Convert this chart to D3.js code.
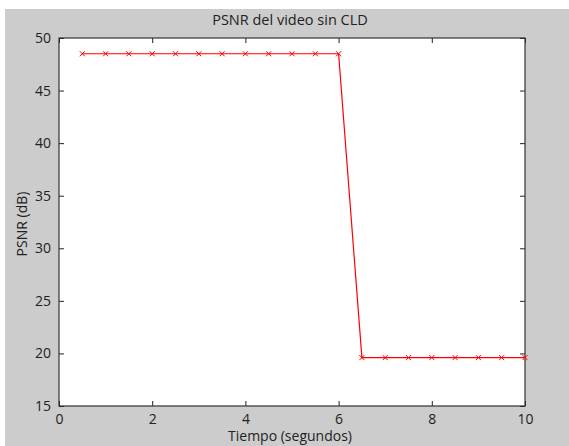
<!DOCTYPE html>
<html>
<head>
<meta charset="utf-8">
<script src="https://cdn.jsdelivr.net/npm/d3@7"></script>
<style>
  body { margin: 0; background: #fff; }
  svg text { font-family: "Open Sans", "DejaVu Sans", sans-serif; fill: #222; }
</style>
</head>
<body>
<svg id="chart" width="569" height="446"></svg>
<script>
// data
var tiempo = [0.5, 1, 1.5, 2, 2.5, 3, 3.5, 4, 4.5, 5, 5.5, 6,
              6.5, 7, 7.5, 8, 8.5, 9, 9.5, 10];
var psnr = [48.5, 48.5, 48.5, 48.5, 48.5, 48.5, 48.5, 48.5, 48.5, 48.5, 48.5, 48.5,
            19.6, 19.6, 19.6, 19.6, 19.6, 19.6, 19.6, 19.6];
var xTicks = [0, 2, 4, 6, 8, 10];
var yTicks = [15, 20, 25, 30, 35, 40, 45, 50];

var PLOT_X = 59, PLOT_Y = 38, PLOT_W = 466, PLOT_H = 368;
var TICK = 5;

var svg = d3.select("#chart");

// grey figure background
svg.append("rect")
	.attr("x", 5).attr("y", 9)
	.attr("width", 564).attr("height", 437)
	.attr("fill", "#cccccc");

var x = d3.scaleLinear().domain([0, 10]).range([0, PLOT_W]);
var y = d3.scaleLinear().domain([15, 50]).range([PLOT_H, 0]);

var g = svg.append("g")
	.attr("transform", "translate(" + PLOT_X + "," + PLOT_Y + ")");

g.append("rect")
	.attr("width", PLOT_W).attr("height", PLOT_H)
	.attr("fill", "#fff");

// axes, ticks pointing inwards on all four sides
function styleAxis(sel) {
	sel.select(".domain").remove();
	sel.selectAll("line").attr("stroke", "#222");
	sel.selectAll("text").attr("font-size", "14px").attr("fill", "#222");
}

g.append("g")
	.attr("transform", "translate(0," + PLOT_H + ")")
	.call(d3.axisBottom(x).tickValues(xTicks).tickSizeInner(-TICK).tickPadding(8).tickFormat(d3.format("d")))
	.call(styleAxis);

g.append("g")
	.call(d3.axisTop(x).tickValues(xTicks).tickSizeInner(-TICK).tickFormat(""))
	.call(styleAxis);

g.append("g")
	.call(d3.axisLeft(y).tickValues(yTicks).tickSizeInner(-TICK).tickPadding(8).tickFormat(d3.format("d")))
	.call(styleAxis);

g.append("g")
	.attr("transform", "translate(" + PLOT_W + ",0)")
	.call(d3.axisRight(y).tickValues(yTicks).tickSizeInner(-TICK).tickFormat(""))
	.call(styleAxis);

// box around plot area
g.append("rect")
	.attr("width", PLOT_W).attr("height", PLOT_H)
	.attr("fill", "none")
	.attr("stroke", "#333")
	.attr("stroke-width", 1.2);

// the series
var pts = tiempo.map(function(t, i) { return [t, psnr[i]]; });

g.append("path")
	.datum(pts)
	.attr("fill", "none")
	.attr("stroke", "#ff0000")
	.attr("stroke-width", 1.2)
	.attr("d", d3.line().x(function(d) { return x(d[0]); }).y(function(d) { return y(d[1]); }));

var M = 2.5;
g.selectAll(".mark")
	.data(pts)
	.enter().append("path")
	.attr("class", "mark")
	.attr("fill", "none")
	.attr("stroke", "#ff0000")
	.attr("stroke-width", 1)
	.attr("d", function(d) {
		var cx = x(d[0]), cy = y(d[1]);
		return "M" + (cx - M) + "," + (cy - M) + "L" + (cx + M) + "," + (cy + M) +
			"M" + (cx - M) + "," + (cy + M) + "L" + (cx + M) + "," + (cy - M);
	});

// title and labels
svg.append("text")
	.attr("x", PLOT_X + PLOT_W / 2 - 2).attr("y", 25)
	.attr("text-anchor", "middle")
	.attr("font-size", "14.5px")
	.text("PSNR del video sin CLD");

svg.append("text")
	.attr("x", PLOT_X + PLOT_W / 2 - 2).attr("y", 441)
	.attr("text-anchor", "middle")
	.attr("font-size", "14px")
	.text("Tiempo (segundos)");

svg.append("text")
	.attr("transform", "translate(27," + (PLOT_Y + PLOT_H / 2 + 2) + ") rotate(-90)")
	.attr("text-anchor", "middle")
	.attr("font-size", "14px")
	.text("PSNR (dB)");
</script>
</body>
</html>
